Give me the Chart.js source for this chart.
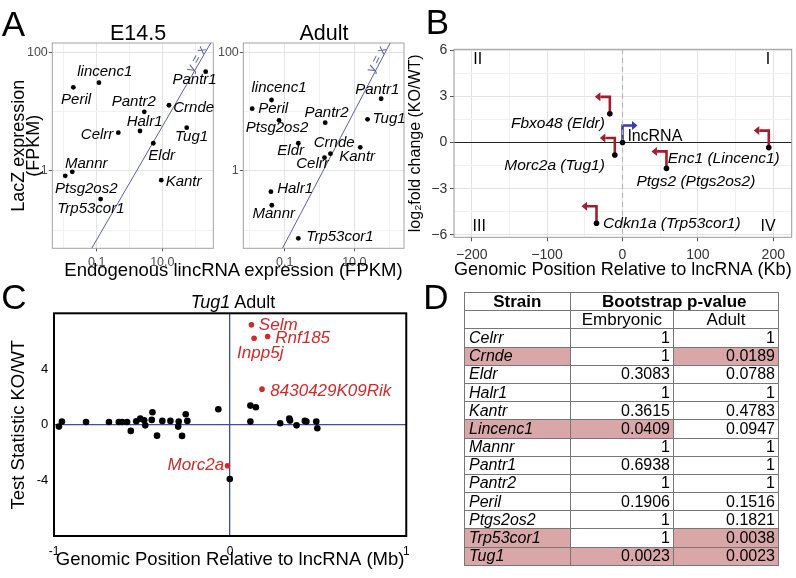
<!DOCTYPE html>
<html>
<head>
<meta charset="utf-8">
<script src="https://cdn.jsdelivr.net/npm/chart.js@4.4.1/dist/chart.umd.min.js"></script>
<style>
body { margin: 0; width: 796px; height: 578px; position: relative; overflow: hidden; background: #fff;
       font-family: "Liberation Sans", Arial, sans-serif; color: #000; }
canvas { position: absolute; }
.c { position: absolute; white-space: nowrap; line-height: 1; transform: translate(-50%, -50%); }
.big { font-size: 35px; }
#tbl { position: absolute; left: 464px; top: 292px; width: 314px; border-collapse: collapse; table-layout: fixed;
       border: 1.5px solid #555; font-size: 16px; }
#tbl td, #tbl th { border: 1px solid #777; padding: 0 3px; height: 17.2px; line-height: 16px; white-space: nowrap; overflow: hidden; }
#tbl th { font-size: 17px; font-weight: bold; text-align: center; }
#tbl td.n { font-style: italic; text-align: left; padding-left: 4px; }
#tbl td.v { text-align: right; }
#tbl td.s { text-align: center; font-size: 17px; }
#tbl .hi { background: #d9a7a8; }
</style>
</head>
<body>
<canvas id="a1" width="222" height="270" style="left:0;top:0"></canvas>
<canvas id="a2" width="194" height="270" style="left:214px;top:0"></canvas>
<canvas id="b" width="390" height="285" style="left:406px;top:0"></canvas>
<canvas id="cc" width="418" height="293" style="left:0;top:285px"></canvas>
<table id="tbl"></table>

<div class="c big" style="left:13.5px;top:22.9px">A</div>
<div class="c" style="left:138px;top:34.2px;font-size:21.5px">E14.5</div>
<div class="c" style="left:324px;top:34.2px;font-size:21.5px">Adult</div>
<div class="c" style="left:233.5px;top:269.5px;font-size:18.5px">Endogenous lincRNA expression (FPKM)</div>
<div class="c big" style="left:437.5px;top:21.2px">B</div>
<div class="c big" style="left:14px;top:295.9px">C</div>
<div class="c" style="left:233px;top:301.8px;font-size:18px"><i>Tug1</i> Adult</div>
<div class="c big" style="left:436px;top:296.2px">D</div>

<script>
// ---------- A: LacZ vs endogenous lincRNA expression ----------
const aGenes = ['lincenc1', 'Peril', 'Pantr2', 'Halr1', 'Celrr', 'Pantr1', 'Crnde', 'Tug1',
                'Eldr', 'Mannr', 'Ptsg2os2', 'Kantr', 'Trp53cor1'];
const embEndo = [0.117, 0.0194, 2.83, 2.09, 0.456, 210, 16.0, 55.5, 5.32, 0.018, 0.011, 9.3, 0.132];
const embLacZ = [31, 25.9, 10.0, 4.74, 4.43, 47.6, 12.9, 5.39, 2.94, 0.97, 0.83, 0.70, 0.336];
const adultEndo = [0.0417, 0.0116, 1.455, 0.040, 1.39, 59, 2.06, 24, 0.246, 0.0425, 0.0687, 14.8, 0.246];
const adultLacZ = [15.8, 11.3, 6.55, 0.447, 1.68, 16.6, 1.96, 7.47, 2.94, 0.264, 7.18, 2.51, 0.073];
const embDiag = [[0.0705, 0.0495], [299, 145]];
const adultDiag = [[0.086, 0.0495], [107, 145]];
const aXTicks = [0.01, 0.1, 1, 10, 100];
const aYTicks = [0.1, 1, 10, 100];
const aXLabels = { 0.1: '0.1', 10: '10.0' };
const aYLabels = { 1: '1', 100: '100' };

// ---------- B: neighbouring genes ----------
const bGenes = ['Fbxo48 (Eldr)', 'Morc2a (Tug1)', 'Enc1 (Lincenc1)', 'Ptgs2 (Ptgs2os2)', 'Cdkn1a (Trp53cor1)'];
const bPosKb = [-16.8, -10.2, 194, 58.3, -34.5];
const bLog2FC = [1.86, -0.81, -0.33, -1.68, -5.24];
const bXTicks = [-200, -150, -100, -50, 0, 50, 100, 150, 200];
const bYTicks = [-6, -4.5, -3, -1.5, 0, 1.5, 3, 4.5, 6];
const quadText = ['II', 'I', 'III', 'IV'];
const quadX = [-192, 193, -190, 193];
const quadY = [5.35, 5.35, -5.45, -5.45];

// ---------- C: Tug1 adult test statistics ----------
const cPosMb = [-0.972, -0.955, -0.818, -0.688, -0.632, -0.613, -0.585, -0.564, -0.533, -0.510, -0.488,
                -0.482, -0.445, -0.441, -0.415, -0.385, -0.339, -0.295, -0.292, -0.273, -0.252, -0.243,
                -0.067, 0.115, 0.146, 0.115, 0.284, 0.336, 0.340, 0.377, 0.424, 0.433, 0.489, 0.495, -0.002];
const cStat = [-0.14, 0.22, 0.19, 0.19, 0.19, 0.19, 0.19, -0.45, 0.24, 0.43, 0.31,
               -0.05, 0.34, 0.89, -0.79, 0.27, 0.27, -0.14, 0.22, -0.81, 0.75, 0.27,
               1.11, 1.37, 1.25, 0.22, 0.10, 0.43, 0.29, -0.05, 0.27, 0.22, 0.22, -0.26, -3.91];
const cSigGenes = ['Selm', 'Inpp5j', 'Rnf185', '8430429K09Rik', 'Morc2a'];
const cSigPos = [0.121, 0.136, 0.213, 0.181, -0.015];
const cSigStat = [7.17, 6.21, 6.33, 2.55, -2.95];

// ---------- D: bootstrap p-values ----------
const strains = ['Celrr', 'Crnde', 'Eldr', 'Halr1', 'Kantr', 'Lincenc1', 'Mannr', 'Pantr1', 'Pantr2',
                 'Peril', 'Ptgs2os2', 'Trp53cor1', 'Tug1'];
const pEmbryonic = [1, 1, 0.3083, 1, 0.3615, 0.0409, 1, 0.6938, 1, 0.1906, 1, 1, 0.0023];
const pAdult = [1, 0.0189, 0.0788, 1, 0.4783, 0.0947, 1, 1, 1, 0.1516, 0.1821, 0.0038, 0.0023];

// label placement (dx, dy, align) relative to each point
const embPlace = [[-21.7, -11, 'left'], [-12.3, 12.7, 'left'], [-32.6, -10, 'left'], [-13.3, -8.7, 'left'],
                  [-5, 2.3, 'right'], [11, 8.3, 'right'], [4.3, 3, 'left'], [-11.7, 9, 'left'],
                  [-5, 12.7, 'left'], [-7.3, -8.4, 'left'], [-10.3, 13.3, 'left'], [4.4, 1.7, 'left'],
                  [-43.4, 9.3, 'left']];
const adultPlace = [[-20, -11.7, 'left'], [6, 0.6, 'left'], [-20.7, -9.4, 'left'], [6.3, -2.4, 'left'],
                    [-28.3, 6.6, 'left'], [-26, -9.4, 'left'], [-16.7, -11, 'left'], [5, 0, 'left'],
                    [-21, 7.4, 'left'], [-19.3, 8.7, 'left'], [-33.3, 7.4, 'left'], [-21, 9.4, 'left'],
                    [8, -1, 'left']];
const bPlace = [[-5, 10, 'right'], [-10, 10.7, 'right'], [11, 11.3, 'right'], [-30, 13.4, 'left'], [6.6, 0.6, 'left']];
const cPlace = [[7.4, 0, 'left'], [-17, 15, 'left'], [7.6, 1.6, 'left'], [8.3, 2.4, 'left'], [-3.3, 0, 'right']];

const FONT = '"Liberation Sans", Arial, sans-serif';
Chart.defaults.font.family = FONT;
Chart.defaults.animation = false;
Chart.defaults.responsive = false;
Chart.defaults.plugins.legend.display = false;
Chart.defaults.plugins.tooltip.enabled = false;

const pts = (xs, ys) => xs.map((x, i) => ({ x: x, y: ys[i] }));
const setTicks = vals => s => { s.ticks = vals.map(v => ({ value: v })); };
const fixW = w => s => { s.width = w; };
const fixH = h => s => { s.height = h; };
const minus = v => (v < 0 ? '\u2212' + Math.abs(v) : String(v));

function frame(color, width) {
  return {
    id: 'frame',
    beforeDatasetsDraw(chart) {
      const { ctx, chartArea: a } = chart;
      ctx.save();
      ctx.strokeStyle = color;
      ctx.lineWidth = width;
      ctx.strokeRect(a.left, a.top, a.right - a.left, a.bottom - a.top);
      ctx.restore();
    }
  };
}

function pointText(sets) {
  return {
    id: 'pointText',
    afterDatasetsDraw(chart) {
      const ctx = chart.ctx;
      sets.forEach(s => {
        const meta = chart.getDatasetMeta(s.index);
        ctx.save();
        ctx.font = s.font;
        ctx.fillStyle = s.color;
        ctx.textBaseline = 'middle';
        meta.data.forEach((el, i) => {
          const p = s.place[i];
          ctx.textAlign = p[2];
          ctx.fillText(s.text[i], el.x + p[0], el.y + p[1]);
        });
        ctx.restore();
      });
    }
  };
}

function lineNote(index, text, t, off) {
  return {
    id: 'lineNote',
    afterDatasetsDraw(chart) {
      const d = chart.getDatasetMeta(index).data;
      const p0 = d[0], p1 = d[1];
      const dx = p1.x - p0.x, dy = p1.y - p0.y, len = Math.hypot(dx, dy);
      const x = p0.x + dx * t + dy / len * off, y = p0.y + dy * t - dx / len * off;
      const ctx = chart.ctx;
      ctx.save();
      ctx.translate(x, y);
      ctx.rotate(Math.atan2(dy, dx));
      ctx.font = '13px ' + FONT;
      ctx.fillStyle = '#5b60a8';
      ctx.textAlign = 'center';
      ctx.textBaseline = 'middle';
      ctx.fillText(text, 0, 0);
      ctx.restore();
    }
  };
}

// ---------- panel A charts ----------
function aChart(id, xs, ys, diag, place, xRange, yw, padRight, withTitle) {
  const gridCol = labels => c => (labels[c.tick.value] ? '#e4e4e4' : '#f1f1f1');
  const tickCol = labels => c => (labels[c.tick.value] ? '#555' : 'rgba(0,0,0,0)');
  return new Chart(document.getElementById(id), {
    type: 'scatter',
    data: {
      datasets: [
        { data: pts(xs, ys), pointRadius: 2.4, backgroundColor: '#000', borderWidth: 0 },
        { data: diag.map(p => ({ x: p[0], y: p[1] })), showLine: true, borderColor: '#5b60a8',
          borderWidth: 1, pointRadius: 0 }
      ]
    },
    options: {
      devicePixelRatio: 1,
      layout: { padding: { left: 0, top: 43, right: padRight, bottom: 0 } },
      scales: {
        x: {
          type: 'logarithmic', min: xRange[0], max: xRange[1],
          afterBuildTicks: setTicks(aXTicks), afterFit: fixH(21.7),
          border: { display: false },
          grid: { color: gridCol(aXLabels), tickColor: tickCol(aXLabels), tickLength: 3 },
          ticks: { autoSkip: false, maxRotation: 0, padding: 3.8, color: '#4d4d4d', font: { size: 12.5 },
                   callback: v => aXLabels[v] || '' }
        },
        y: {
          type: 'logarithmic', min: 0.0495, max: 145,
          afterBuildTicks: setTicks(aYTicks), afterFit: fixW(yw),
          border: { display: false },
          grid: { color: gridCol(aYLabels), tickColor: tickCol(aYLabels), tickLength: 3.5 },
          ticks: { autoSkip: false, padding: 1, color: '#4d4d4d', font: { size: 12.5 },
                   callback: v => aYLabels[v] || '' },
          title: { display: withTitle, text: ['LacZ expression', '(FPKM)'], color: '#000',
                   font: { size: 18, lineHeight: 0.8 }, padding: { top: 12, bottom: 0 } }
        }
      }
    },
    plugins: [
      frame('#a3a3a3', 1),
      pointText([{ index: 0, text: aGenes, place: place, font: 'italic 15px ' + FONT, color: '#000' }]),
      lineNote(1, 'y = x', 0.91, 4)
    ]
  });
}
aChart('a1', embEndo, embLacZ, embDiag, embPlace, [0.00443, 359], 52.3, 8.7, true);
aChart('a2', adultEndo, adultLacZ, adultDiag, adultPlace, [0.00644, 268], 29.3, 3, false);

// ---------- panel B ----------
const tssArrows = {
  id: 'tss',
  beforeDatasetsDraw(chart) {
    const ctx = chart.ctx;
    const draw = (el, dir, color) => {
      const h = 17, w = 9.5, hd = 5.5;
      ctx.save();
      ctx.strokeStyle = color;
      ctx.fillStyle = color;
      ctx.lineWidth = 2.6;
      ctx.beginPath();
      ctx.moveTo(el.x, el.y);
      ctx.lineTo(el.x, el.y - h);
      ctx.lineTo(el.x + dir * w, el.y - h);
      ctx.stroke();
      ctx.beginPath();
      ctx.moveTo(el.x + dir * (w + hd), el.y - h);
      ctx.lineTo(el.x + dir * w, el.y - h - 4.5);
      ctx.lineTo(el.x + dir * w, el.y - h + 4.5);
      ctx.closePath();
      ctx.fill();
      ctx.restore();
    };
    chart.getDatasetMeta(0).data.forEach(el => draw(el, -1, '#a51d2d'));
    chart.getDatasetMeta(1).data.forEach(el => draw(el, 1, '#3a3d9e'));
  }
};
const quadrants = {
  id: 'quadrants',
  afterDatasetsDraw(chart) {
    const { ctx, scales } = chart;
    ctx.save();
    ctx.font = '16px ' + FONT;
    ctx.fillStyle = '#000';
    ctx.textAlign = 'center';
    ctx.textBaseline = 'middle';
    quadText.forEach((t, i) => ctx.fillText(t, scales.x.getPixelForValue(quadX[i]), scales.y.getPixelForValue(quadY[i])));
    ctx.restore();
  }
};
new Chart(document.getElementById('b'), {
  type: 'scatter',
  data: {
    datasets: [
      { data: pts(bPosKb, bLog2FC), pointRadius: 2.8, backgroundColor: '#000', borderWidth: 0 },
      { data: [{ x: 0, y: 0 }], pointRadius: 2.8, backgroundColor: '#000', borderWidth: 0 },
      { data: [{ x: 0, y: -10 }, { x: 0, y: 10 }], showLine: true, borderColor: '#b5b5b5', borderWidth: 1.2,
        borderDash: [5, 4], pointRadius: 0 }
    ]
  },
  options: {
    devicePixelRatio: 1,
    layout: { padding: { left: 0, top: 49.3, right: 4.3, bottom: 0 } },
    scales: {
      x: {
        min: -223.5, max: 224.4, afterBuildTicks: setTicks(bXTicks), afterFit: fixH(47.7),
        border: { display: false },
        grid: { color: c => (c.tick.value % 100 === 0 ? '#e3e3e3' : '#f0f0f0'),
                tickColor: c => (c.tick.value % 100 === 0 ? '#555' : 'rgba(0,0,0,0)'), tickLength: 4 },
        ticks: { autoSkip: false, maxRotation: 0, padding: 5, color: '#333', font: { size: 14 },
                 callback: v => (v % 100 === 0 ? minus(v) : '') },
        title: { display: true, text: 'Genomic Position Relative to lncRNA (Kb)', color: '#000',
                 font: { size: 18.5 }, padding: { top: 0, bottom: 3.8 } }
      },
      y: {
        min: -6.15, max: 6.05, afterBuildTicks: setTicks(bYTicks), afterFit: fixW(48),
        border: { display: false },
        grid: { color: c => (c.tick.value === 0 ? '#222' : c.tick.value % 3 === 0 ? '#e3e3e3' : '#f0f0f0'),
                tickColor: c => (c.tick.value % 3 === 0 ? '#555' : 'rgba(0,0,0,0)'), tickLength: 4 },
        ticks: { autoSkip: false, padding: 2.7, color: '#333', font: { size: 14 },
                 callback: v => (v % 3 === 0 ? minus(v) : '') },
        title: { display: true, text: 'log\u2082fold change (KO/WT)', color: '#000',
                 font: { size: 16 }, padding: { top: 0, bottom: 0 } }
      }
    }
  },
  plugins: [
    frame('#9a9a9a', 1), tssArrows, quadrants,
    pointText([
      { index: 0, text: bGenes, place: bPlace, font: 'italic 15.5px ' + FONT, color: '#000' },
      { index: 1, text: ['lncRNA'], place: [[5.6, -6, 'left']], font: '16px ' + FONT, color: '#000' }
    ])
  ]
});

// ---------- panel C ----------
const zeroOnly = c => (c.tick.value === 0 ? '#3f4ea0' : 'rgba(0,0,0,0)');
new Chart(document.getElementById('cc'), {
  type: 'scatter',
  data: {
    datasets: [
      { data: pts(cSigPos, cSigStat), pointRadius: 2.8, backgroundColor: '#d02a2c', borderWidth: 0 },
      { data: pts(cPosMb, cStat), pointRadius: 3.3, backgroundColor: '#000', borderWidth: 0 }
    ]
  },
  options: {
    devicePixelRatio: 1,
    layout: { padding: { left: 0, top: 28.3, right: 9.7, bottom: 0 } },
    scales: {
      x: {
        min: -1, max: 1, afterBuildTicks: setTicks([-1, 0, 1]), afterFit: fixH(42),
        border: { display: false },
        grid: { color: zeroOnly, lineWidth: 1.3, drawTicks: false },
        ticks: { autoSkip: false, maxRotation: 0, padding: 8.4, color: '#000', font: { size: 12 },
                 callback: v => String(v) },
        title: { display: true, text: 'Genomic Position Relative to lncRNA (Mb)', color: '#000',
                 font: { size: 18.5 }, padding: { top: 0, bottom: 6.5 } }
      },
      y: {
        min: -8, max: 8, afterBuildTicks: setTicks([-4, 0, 4]), afterFit: fixW(54),
        border: { display: false },
        grid: { color: zeroOnly, lineWidth: 1.3, drawTicks: false },
        ticks: { autoSkip: false, padding: 5.7, color: '#000', font: { size: 13 }, callback: v => String(v) },
        title: { display: true, text: 'Test Statistic KO/WT', color: '#000',
                 font: { size: 18.5 }, padding: { top: 8, bottom: 0 } }
      }
    }
  },
  plugins: [
    frame('#000', 2),
    pointText([{ index: 0, text: cSigGenes, place: cPlace, font: 'italic 17px ' + FONT, color: '#cf2a2c' }])
  ]
});

// ---------- panel D table ----------
const fmtP = v => (v === 1 ? '1' : v.toFixed(4));
let rows = '<colgroup><col style="width:105.7px"><col style="width:103.3px"><col style="width:105px"></colgroup>';
rows += '<tr><th>Strain</th><th colspan="2">Bootstrap p-value</th></tr>';
rows += '<tr><td></td><td class="s">Embryonic</td><td class="s">Adult</td></tr>';
strains.forEach((s, i) => {
  const e = pEmbryonic[i], a = pAdult[i];
  const hit = e < 0.05 || a < 0.05;
  rows += '<tr><td class="n' + (hit ? ' hi' : '') + '">' + s + '</td>' +
          '<td class="v' + (e < 0.05 ? ' hi' : '') + '">' + fmtP(e) + '</td>' +
          '<td class="v' + (a < 0.05 ? ' hi' : '') + '">' + fmtP(a) + '</td></tr>';
});
document.getElementById('tbl').innerHTML = rows;
</script>
</body>
</html>
